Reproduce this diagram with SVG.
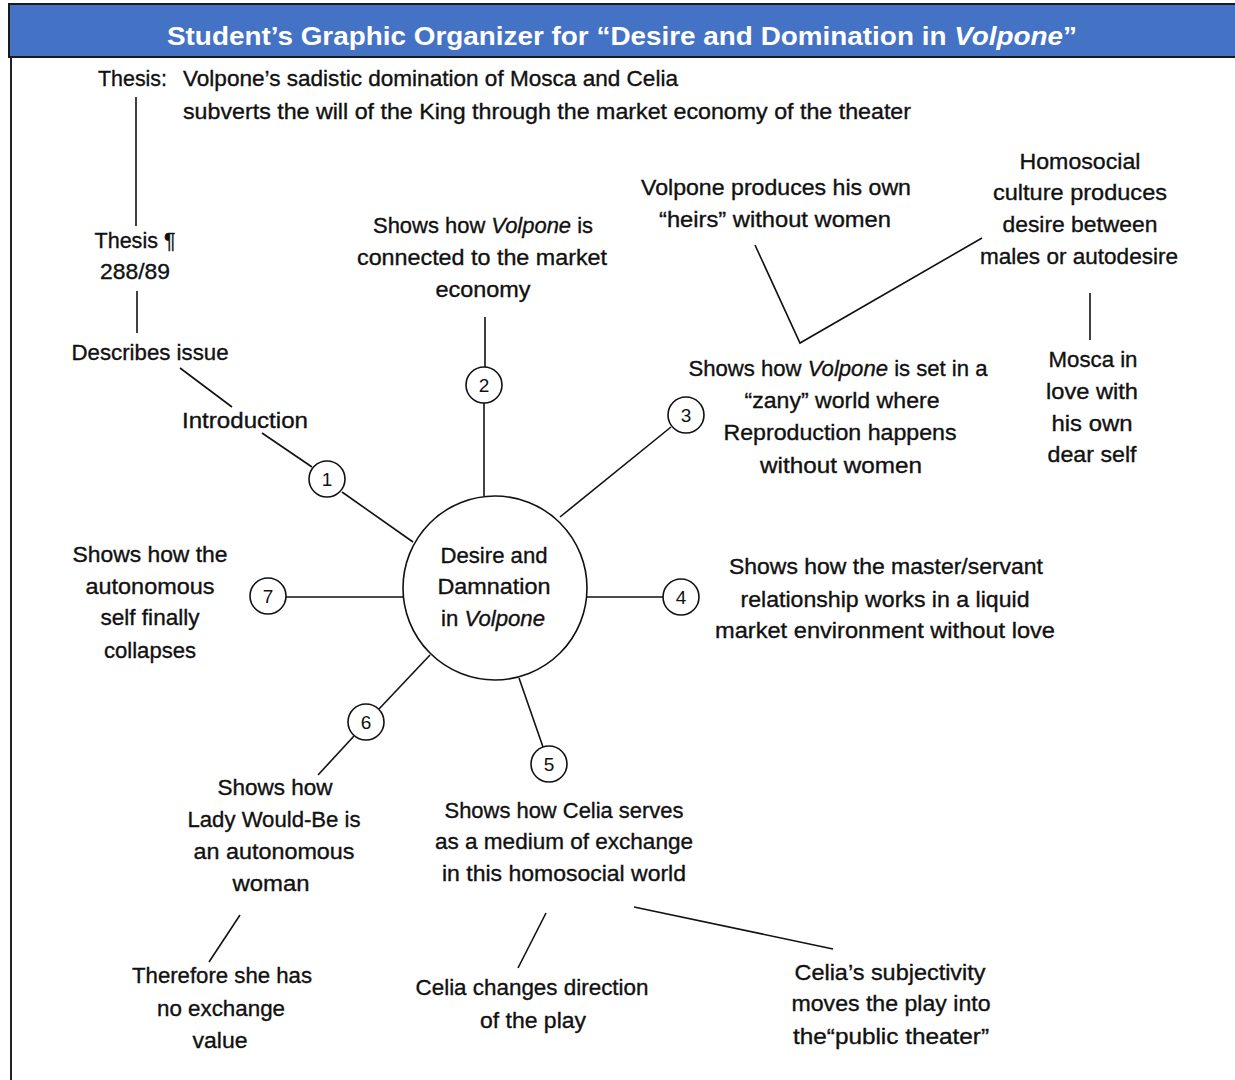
<svg xmlns="http://www.w3.org/2000/svg" width="1235" height="1080" viewBox="0 0 1235 1080">
<style>
.t{font-family:"Liberation Sans",Arial,sans-serif;font-size:22px;fill:#111;stroke:#111;stroke-width:0.35;text-anchor:middle}
.ts{font-family:"Liberation Sans",Arial,sans-serif;font-size:22px;fill:#111;stroke:#111;stroke-width:0.35}
.n{font-family:"Liberation Sans",Arial,sans-serif;font-size:19px;fill:#111;text-anchor:middle}
.i{font-style:italic}
.c{fill:#fff;stroke:#111;stroke-width:1.6}
.l{stroke:#111;stroke-width:1.6;fill:none}
</style>
<rect width="1235" height="1080" fill="#fff"/>
<g id="header">
<rect x="9" y="4" width="1232" height="53" fill="#4472C4" stroke="#1a1a1a" stroke-width="2"/>
<text x="167" y="45" font-family="'Liberation Sans',Arial,sans-serif" font-size="26" font-weight="bold" fill="#fff" textLength="910" lengthAdjust="spacingAndGlyphs">Student’s Graphic Organizer for “Desire and Domination in <tspan class="i">Volpone</tspan>”</text>
</g>
<line x1="11" y1="57" x2="11" y2="1080" stroke="#222" stroke-width="2"/>
<g id="connectors">
<line class="l" x1="136" y1="97" x2="136" y2="226"/>
<line class="l" x1="137" y1="291" x2="137" y2="333"/>
<line class="l" x1="180" y1="368" x2="232" y2="407"/>
<line class="l" x1="262" y1="433" x2="312" y2="467"/>
<line class="l" x1="342" y1="492" x2="413" y2="542"/>
<line class="l" x1="485" y1="317" x2="485" y2="367"/>
<line class="l" x1="484" y1="403" x2="484" y2="496"/>
<line class="l" x1="560" y1="517" x2="671" y2="427"/>
<polyline class="l" points="755,245 800,343 982,238"/>
<line class="l" x1="1090" y1="293" x2="1090" y2="340"/>
<line class="l" x1="587" y1="597" x2="663" y2="597"/>
<line class="l" x1="286" y1="597" x2="403" y2="597"/>
<line class="l" x1="430" y1="655" x2="379" y2="709"/>
<line class="l" x1="354" y1="736" x2="318" y2="775"/>
<line class="l" x1="519" y1="678" x2="543" y2="747"/>
<line class="l" x1="240" y1="915" x2="209" y2="962"/>
<line class="l" x1="546" y1="913" x2="518" y2="968"/>
<line class="l" x1="634" y1="907" x2="833" y2="949"/>
</g>
<g id="thesis">
<text class="ts" x="98" y="86" textLength="69" lengthAdjust="spacingAndGlyphs">Thesis:</text>
<text class="ts" x="183" y="86" textLength="495" lengthAdjust="spacingAndGlyphs">Volpone’s sadistic domination of Mosca and Celia</text>
<text class="ts" x="183" y="119" textLength="728" lengthAdjust="spacingAndGlyphs">subverts the will of the King through the market economy of the theater</text>
</g>
<g id="thesis-para">
<text class="t" x="135" y="248" textLength="81" lengthAdjust="spacingAndGlyphs">Thesis ¶</text>
<text class="t" x="135" y="279" textLength="70" lengthAdjust="spacingAndGlyphs">288/89</text>
</g>
<g id="describes"><text class="t" x="150" y="360" textLength="157" lengthAdjust="spacingAndGlyphs">Describes issue</text></g>
<g id="introduction"><text class="t" x="245" y="428" textLength="126" lengthAdjust="spacingAndGlyphs">Introduction</text></g>
<g id="center">
<circle class="c" cx="495" cy="588" r="92"/>
<text class="t" x="494" y="563" textLength="107" lengthAdjust="spacingAndGlyphs">Desire and</text>
<text class="t" x="494" y="594" textLength="113" lengthAdjust="spacingAndGlyphs">Damnation</text>
<text class="t" x="493" y="626" textLength="104" lengthAdjust="spacingAndGlyphs">in <tspan class="i">Volpone</tspan></text>
</g>
<g id="num1"><circle class="c" cx="327" cy="479" r="18"/><text class="n" x="327" y="486">1</text></g>
<g id="num2"><circle class="c" cx="484" cy="385" r="18"/><text class="n" x="484" y="392">2</text></g>
<g id="num3"><circle class="c" cx="686" cy="415" r="18"/><text class="n" x="686" y="422">3</text></g>
<g id="num4"><circle class="c" cx="681" cy="597" r="18"/><text class="n" x="681" y="604">4</text></g>
<g id="num5"><circle class="c" cx="549" cy="764" r="18"/><text class="n" x="549" y="771">5</text></g>
<g id="num6"><circle class="c" cx="366" cy="722" r="18"/><text class="n" x="366" y="729">6</text></g>
<g id="num7"><circle class="c" cx="268" cy="596" r="18"/><text class="n" x="268" y="603">7</text></g>
<g id="node2">
<text class="t" x="483" y="233" textLength="220" lengthAdjust="spacingAndGlyphs">Shows how <tspan class="i">Volpone</tspan> is</text>
<text class="t" x="482" y="265" textLength="250" lengthAdjust="spacingAndGlyphs">connected to the market</text>
<text class="t" x="483" y="297" textLength="95" lengthAdjust="spacingAndGlyphs">economy</text>
</g>
<g id="heirs">
<text class="t" x="776" y="195" textLength="270" lengthAdjust="spacingAndGlyphs">Volpone produces his own</text>
<text class="t" x="775" y="227" textLength="232" lengthAdjust="spacingAndGlyphs">“heirs” without women</text>
</g>
<g id="homosocial">
<text class="t" x="1080" y="169" textLength="121" lengthAdjust="spacingAndGlyphs">Homosocial</text>
<text class="t" x="1080" y="200" textLength="174" lengthAdjust="spacingAndGlyphs">culture  produces</text>
<text class="t" x="1080" y="232" textLength="155" lengthAdjust="spacingAndGlyphs">desire between</text>
<text class="t" x="1079" y="264" textLength="198" lengthAdjust="spacingAndGlyphs">males or autodesire</text>
</g>
<g id="node3">
<text class="t" x="838" y="376" textLength="299" lengthAdjust="spacingAndGlyphs">Shows how <tspan class="i">Volpone</tspan> is set in a</text>
<text class="t" x="842" y="408" textLength="195" lengthAdjust="spacingAndGlyphs">“zany” world where</text>
<text class="t" x="840" y="440" textLength="233" lengthAdjust="spacingAndGlyphs">Reproduction happens</text>
<text class="t" x="841" y="473" textLength="162" lengthAdjust="spacingAndGlyphs">without women</text>
</g>
<g id="mosca">
<text class="t" x="1093" y="367" textLength="89" lengthAdjust="spacingAndGlyphs">Mosca in</text>
<text class="t" x="1092" y="399" textLength="92" lengthAdjust="spacingAndGlyphs">love with</text>
<text class="t" x="1092" y="431" textLength="81" lengthAdjust="spacingAndGlyphs">his own</text>
<text class="t" x="1092" y="462" textLength="89" lengthAdjust="spacingAndGlyphs">dear self</text>
</g>
<g id="node4">
<text class="t" x="886" y="574" textLength="314" lengthAdjust="spacingAndGlyphs">Shows how the master/servant</text>
<text class="t" x="885" y="607" textLength="289" lengthAdjust="spacingAndGlyphs">relationship works in a liquid</text>
<text class="t" x="885" y="638" textLength="340" lengthAdjust="spacingAndGlyphs">market environment without love</text>
</g>
<g id="node7">
<text class="t" x="150" y="562" textLength="155" lengthAdjust="spacingAndGlyphs">Shows how the</text>
<text class="t" x="150" y="594" textLength="129" lengthAdjust="spacingAndGlyphs">autonomous</text>
<text class="t" x="150" y="625" textLength="99" lengthAdjust="spacingAndGlyphs">self finally</text>
<text class="t" x="150" y="658" textLength="92" lengthAdjust="spacingAndGlyphs">collapses</text>
</g>
<g id="node6">
<text class="t" x="275" y="795" textLength="115" lengthAdjust="spacingAndGlyphs">Shows how</text>
<text class="t" x="274" y="827" textLength="173" lengthAdjust="spacingAndGlyphs">Lady Would-Be is</text>
<text class="t" x="274" y="859" textLength="161" lengthAdjust="spacingAndGlyphs">an autonomous</text>
<text class="t" x="271" y="891" textLength="77" lengthAdjust="spacingAndGlyphs">woman</text>
</g>
<g id="node5">
<text class="t" x="564" y="818" textLength="239" lengthAdjust="spacingAndGlyphs">Shows how Celia serves</text>
<text class="t" x="564" y="849" textLength="258" lengthAdjust="spacingAndGlyphs">as a medium of exchange</text>
<text class="t" x="564" y="881" textLength="244" lengthAdjust="spacingAndGlyphs">in this homosocial world</text>
</g>
<g id="exchange-value">
<text class="t" x="222" y="983" textLength="180" lengthAdjust="spacingAndGlyphs">Therefore she has</text>
<text class="t" x="221" y="1016" textLength="128" lengthAdjust="spacingAndGlyphs">no exchange</text>
<text class="t" x="220" y="1048" textLength="55" lengthAdjust="spacingAndGlyphs">value</text>
</g>
<g id="direction">
<text class="t" x="532" y="995" textLength="233" lengthAdjust="spacingAndGlyphs">Celia changes direction</text>
<text class="t" x="533" y="1028" textLength="106" lengthAdjust="spacingAndGlyphs">of the play</text>
</g>
<g id="subjectivity">
<text class="t" x="890" y="980" textLength="191" lengthAdjust="spacingAndGlyphs">Celia’s  subjectivity</text>
<text class="t" x="891" y="1011" textLength="199" lengthAdjust="spacingAndGlyphs">moves the play into</text>
<text class="t" x="891" y="1044" textLength="196" lengthAdjust="spacingAndGlyphs">the“public theater”</text>
</g>
</svg>
